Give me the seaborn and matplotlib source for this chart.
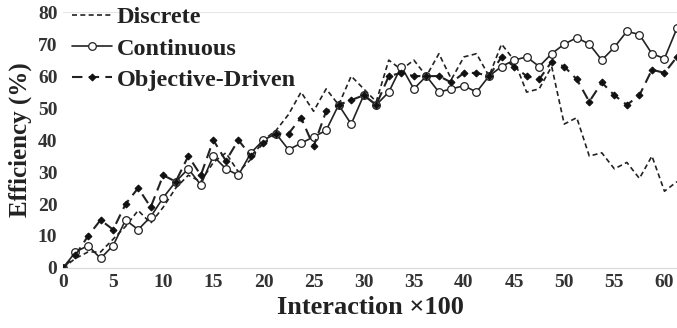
import numpy as np
import pandas as pd
import seaborn as sns
import matplotlib.pyplot as plt

interaction = [1.25 * i for i in range(50)]
discrete = [0, 3, 5, 5, 9, 13, 18, 14, 19, 25, 29, 27, 33, 36, 30, 34, 40, 43, 48, 55,
            49, 56, 51, 60, 56, 52, 65, 62, 65, 60, 67, 59, 66, 67, 60, 70, 65, 55, 56, 63,
            45, 47, 35, 36, 31, 33, 28, 35, 24, 27]
continuous = [0, 5, 7, 3, 7, 15, 12, 16, 22, 27, 31, 26, 35, 31, 29, 36, 40, 42, 37, 39,
              41, 43, 51, 45, 54, 51, 55, 63, 56, 60, 55, 56, 57, 55, 60, 63, 65, 66, 63, 67,
              70, 72, 70, 65, 69, 74, 73, 67, 65.5, 75]
objective = [0, 4, 10, 15, 12, 20, 25, 19, 29, 27, 35, 29, 40, 33.5, 40, 35, 39, 42, 42, 47,
             38, 49, 51, 52.5, 54, 51, 60, 61, 60, 60, 60, 58, 61, 61, 60, 66, 63, 60, 59, 64.5,
             63, 59, 52, 58, 54, 51, 54, 62, 61, 66]
x_ticks = list(range(0, 61, 5))
y_ticks = list(range(0, 81, 10))

sns.set_theme(style="white")
plt.rcParams['font.family'] = ['Liberation Serif', 'DejaVu Serif']
plt.rcParams['font.weight'] = 'bold'

fig = plt.figure(figsize=(6.77, 3.28), dpi=100)
ax = fig.add_axes([0.093, 0.183, 0.907, 0.78])

sns.lineplot(x=interaction, y=discrete, ax=ax, color='#222222', linewidth=1.2,
             label='Discrete')
ax.lines[-1].set_dashes([3, 2])
sns.lineplot(x=interaction, y=continuous, ax=ax, color='#222222', linewidth=1.2,
             marker='o', markersize=5.5, markerfacecolor='white', markeredgecolor='#222222',
             markeredgewidth=0.9, label='Continuous')
sns.lineplot(x=interaction, y=objective, ax=ax, color='#222222', linewidth=1.5,
             marker='D', markersize=3.5, markerfacecolor='#111111', markeredgecolor='#111111',
             label='Objective-Driven')
ax.lines[-1].set_dashes([5, 3])

ax.set_xlim(0, 61.25)
ax.set_ylim(0, 80)
ax.set_xticks(x_ticks)
ax.set_yticks(y_ticks)
ax.tick_params(axis='both', labelsize=14, length=0, pad=4)
for lab in ax.get_xticklabels() + ax.get_yticklabels():
    lab.set_fontweight('bold')
    lab.set_color('#333333')
ax.set_xlabel('Interaction ×100', fontsize=19, fontweight='bold', color='#222222', labelpad=4)
ax.set_ylabel('Efficiency (%)', fontsize=18, fontweight='bold', color='#222222', labelpad=4)

for side in ['top', 'right', 'left']:
    ax.spines[side].set_visible(False)
ax.spines['bottom'].set_color('#d9d9d9')
ax.spines['bottom'].set_linewidth(0.8)
ax.axhline(80, color='#e6e6e6', linewidth=0.8, zorder=0)

leg = ax.legend(loc='upper left', frameon=False, fontsize=17.5, handlelength=1.65,
                handletextpad=0.2, borderaxespad=0.1, labelspacing=0.38,
                bbox_to_anchor=(-0.005, 1.07))
for t in leg.get_texts():
    t.set_fontweight('bold')
    t.set_color('#222222')

fig.savefig('out.png', dpi=100)
